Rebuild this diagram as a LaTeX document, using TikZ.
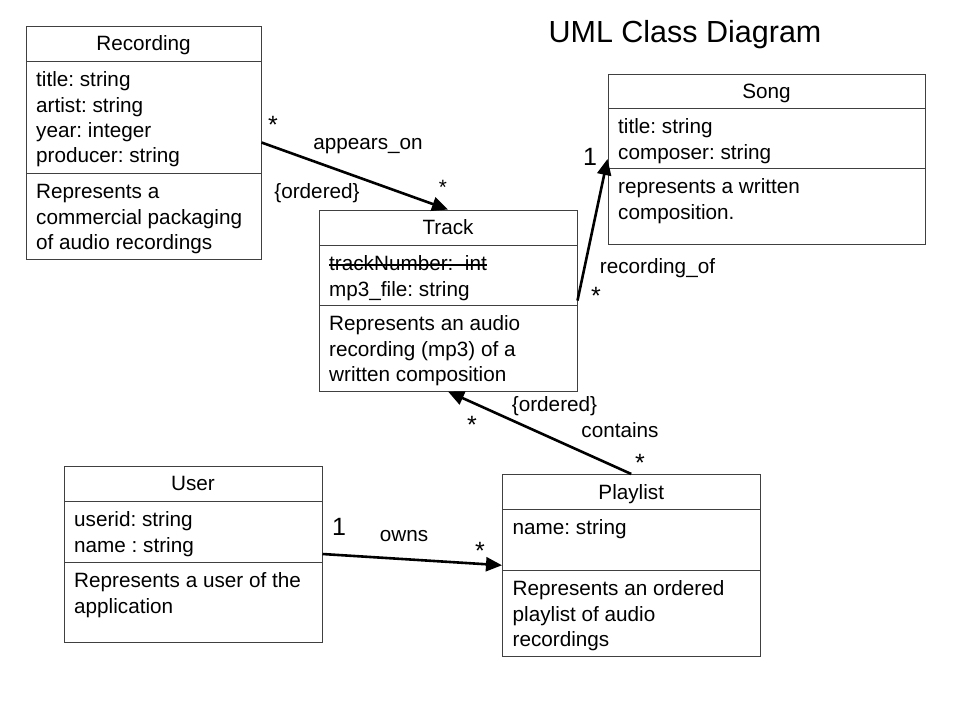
\documentclass[tikz,border=0pt]{standalone}
\usepackage{fontspec}
\setmainfont{Liberation Sans}
\usetikzlibrary{arrows.meta}

\frenchspacing
\newcommand{\classfont}{\fontsize{20.7}{25.3}\selectfont}
\newcommand{\multfont}{\fontsize{25}{30}\selectfont}
\newcommand{\headfont}{\fontsize{30.5}{36}\selectfont}
\newsavebox{\strikebox}
\newcommand{\struck}[1]{\sbox{\strikebox}{#1}\rlap{\rule[5.4pt]{\wd\strikebox}{1.1pt}}\usebox{\strikebox}}

\tikzset{
  classbox/.style={draw=black!75, line width=1pt, inner sep=0pt},
  divider/.style={draw=black!75, line width=1pt},
  classname/.style={font=\classfont, inner sep=0pt, text height=14.8pt, text depth=0pt},
  members/.style={font=\classfont, anchor=north west, inner sep=0pt, align=left},
  assoc/.style={line width=2.6pt, -{Triangle[length=16pt,width=14pt]}},
  rolename/.style={font=\classfont, anchor=base},
  mult/.style={font=\multfont, inner sep=0pt}
}

\begin{document}
\begin{tikzpicture}[x=1pt, y=-1pt]
  % Page
  \fill[white] (0,0) rectangle (960,720);
  \useasboundingbox (0,0) rectangle (960,720);

  % Title
  \node[font=\headfont, anchor=base] (heading) at (685,42) {UML Class Diagram};

  % Recording class
  \node[classbox, minimum width=235pt, minimum height=233pt] (recording) at (143.5,142.5) {};
  \draw[divider] (26,61) -- (261,61);
  \draw[divider] (26,173) -- (261,173);
  \node[classname] (recordingname) at (143.5,43.5) {Recording};
  \node[members] (recordingattr) at (36,69) {\strut title: string\\artist: string\\year: integer\\producer: string};
  \node[members] (recordingdesc) at (36,181) {\strut Represents a\\commercial packaging\\of audio recordings};

  % Track class
  \node[classbox, minimum width=258pt, minimum height=181pt] (track) at (448,300.5) {};
  \draw[divider] (319,245) -- (577,245);
  \draw[divider] (319,305) -- (577,305);
  \node[classname] (trackname) at (448,227.5) {Track};
  \node[members] (trackattr) at (329,253) {\strut\struck{trackNumber:\ \ int}\\mp3\_file: string};
  \node[members] (trackdesc) at (329,313) {\strut Represents an audio\\recording (mp3) of a\\written composition};

  % Song class
  \node[classbox, minimum width=317pt, minimum height=170pt] (song) at (766.5,159) {};
  \draw[divider] (608,108) -- (925,108);
  \draw[divider] (608,168) -- (925,168);
  \node[classname] (songname) at (766.5,91) {Song};
  \node[members] (songattr) at (618,116) {\strut title: string\\composer: string};
  \node[members] (songdesc) at (618,176) {\strut represents a written\\composition.};

  % User class
  \node[classbox, minimum width=258pt, minimum height=176pt] (user) at (193,554) {};
  \draw[divider] (64,501) -- (322,501);
  \draw[divider] (64,562) -- (322,562);
  \node[classname] (username) at (193,483.5) {User};
  \node[members] (userattr) at (74,509) {\strut userid: string\\name : string};
  \node[members] (userdesc) at (74,570) {\strut Represents a user of the\\application};

  % Playlist class
  \node[classbox, minimum width=257.5pt, minimum height=181.5pt] (playlist) at (631.25,565.25) {};
  \draw[divider] (502.5,509) -- (760,509);
  \draw[divider] (502.5,570) -- (760,570);
  \node[classname] (playlistname) at (631.25,491.75) {Playlist};
  \node[members] (playlistattr) at (512.5,517) {\strut name: string};
  \node[members] (playlistdesc) at (512.5,578) {\strut Represents an ordered\\playlist of audio\\recordings};

  % Associations
  \draw[assoc] (recording.east) -- (track.north);
  \draw[assoc] (track.east) -- (song.west);
  \draw[assoc] (playlist.north) -- (track.south);
  \draw[assoc] (user.east) -- (playlist.west);

  % appears_on
  \node[mult] (appearsfrom) at (273,125) {*};
  \node[rolename] (appearslbl) at (368,149) {appears\_on};
  \node[rolename] (appearsorder) at (317,198) {\{ordered\}};
  \node[font=\classfont, inner sep=0pt] (appearsto) at (443,187) {*};

  % recording_of
  \node[mult] (recofto) at (590,157) {1};
  \node[rolename] (recoflbl) at (657.5,273) {recording\_of};
  \node[mult] (recoffrom) at (596,296) {*};

  % contains
  \node[rolename] (containsorder) at (554.5,411.5) {\{ordered\}};
  \node[rolename] (containslbl) at (620,437) {contains};
  \node[mult] (containsto) at (472,425) {*};
  \node[mult] (containsfrom) at (640,463) {*};

  % owns
  \node[mult] (ownsfrom) at (339,527) {1};
  \node[rolename] (ownslbl) at (404,541.5) {owns};
  \node[mult] (ownsto) at (480,551) {*};
\end{tikzpicture}
\end{document}
